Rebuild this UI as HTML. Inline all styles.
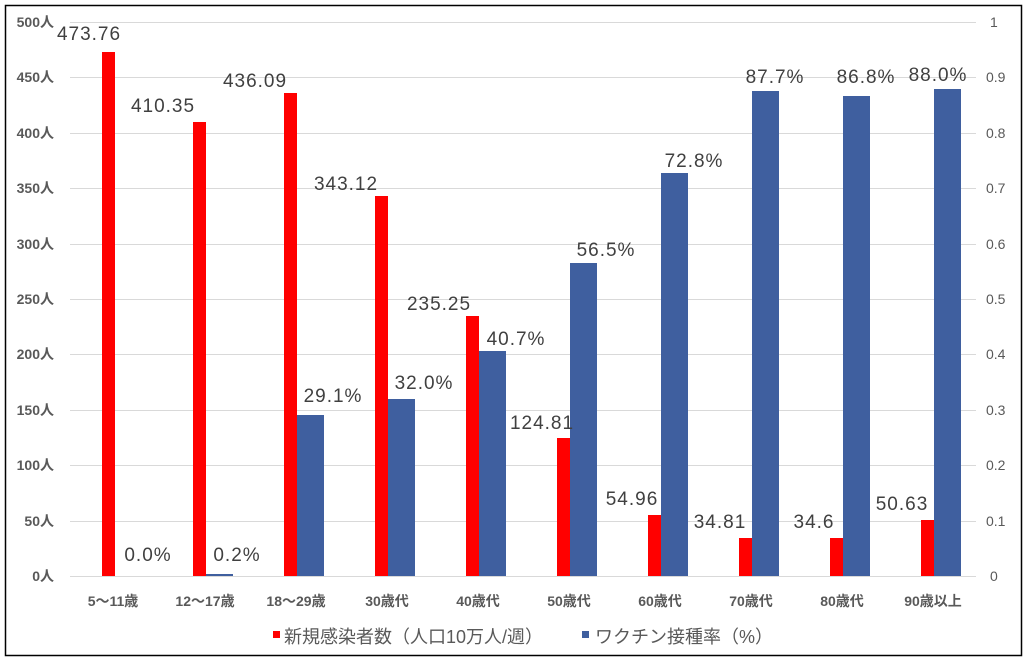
<!DOCTYPE html>
<html><head><meta charset="utf-8"><style>
body{margin:0;background:#fff;}
svg text{font-family:"Liberation Sans","Noto Sans CJK JP",sans-serif;}
</style></head><body>
<svg width="1027" height="661" xmlns="http://www.w3.org/2000/svg">
<rect x="5.5" y="5.5" width="1016" height="650" fill="#fff" stroke="#000" stroke-width="1.5"/>
<g stroke="#d9d9d9" stroke-width="1">
<line x1="70" x2="976" y1="22.5" y2="22.5"/><line x1="70" x2="976" y1="77.5" y2="77.5"/>
<line x1="70" x2="976" y1="133.5" y2="133.5"/><line x1="70" x2="976" y1="188.5" y2="188.5"/>
<line x1="70" x2="976" y1="244.5" y2="244.5"/><line x1="70" x2="976" y1="299.5" y2="299.5"/>
<line x1="70" x2="976" y1="354.5" y2="354.5"/><line x1="70" x2="976" y1="410.5" y2="410.5"/>
<line x1="70" x2="976" y1="465.5" y2="465.5"/><line x1="70" x2="976" y1="521.5" y2="521.5"/>
<line x1="70" x2="976" y1="576.5" y2="576.5"/>
</g>
<g font-size="14" font-weight="bold" fill="#595959" text-anchor="end">
<text x="54" y="27">500人</text><text x="54" y="82">450人</text><text x="54" y="138">400人</text>
<text x="54" y="193">350人</text><text x="54" y="249">300人</text><text x="54" y="304">250人</text>
<text x="54" y="359">200人</text><text x="54" y="415">150人</text><text x="54" y="470">100人</text>
<text x="54" y="526">50人</text><text x="54" y="581">0人</text>
</g>
<g font-size="14" fill="#595959">
<text x="990" y="27">1</text><text x="986" y="82">0.9</text><text x="986" y="138">0.8</text>
<text x="986" y="193">0.7</text><text x="986" y="249">0.6</text><text x="986" y="304">0.5</text>
<text x="986" y="359">0.4</text><text x="986" y="415">0.3</text><text x="986" y="470">0.2</text>
<text x="986" y="526">0.1</text><text x="990" y="581">0</text>
</g>
<g fill="#ff0000">
<rect x="102" y="52" width="13" height="524"/>
<rect x="193" y="122" width="13" height="454"/>
<rect x="284" y="93" width="13" height="483"/>
<rect x="375" y="196" width="13" height="380"/>
<rect x="466" y="316" width="13" height="260"/>
<rect x="557" y="438" width="13" height="138"/>
<rect x="648" y="515" width="13" height="61"/>
<rect x="739" y="538" width="13" height="38"/>
<rect x="830" y="538" width="13" height="38"/>
<rect x="921" y="520" width="13" height="56"/>
</g>
<g fill="#3f5f9f">
<rect x="206" y="574" width="27" height="2"/>
<rect x="297" y="415" width="27" height="161"/>
<rect x="388" y="399" width="27" height="177"/>
<rect x="479" y="351" width="27" height="225"/>
<rect x="570" y="263" width="27" height="313"/>
<rect x="661" y="173" width="27" height="403"/>
<rect x="752" y="91" width="27" height="485"/>
<rect x="843" y="96" width="27" height="480"/>
<rect x="934" y="89" width="27" height="487"/>
</g>
<g font-size="19" fill="#404040" text-anchor="middle" letter-spacing="1">
<text x="89" y="40">473.76</text>
<text x="163" y="112">410.35</text>
<text x="255" y="87">436.09</text>
<text x="346" y="190">343.12</text>
<text x="439" y="310">235.25</text>
<text x="542" y="429">124.81</text>
<text x="632" y="505">54.96</text>
<text x="720" y="528">34.81</text>
<text x="814" y="528">34.6</text>
<text x="902" y="510">50.63</text>
<text x="148" y="561">0.0%</text>
<text x="237" y="561">0.2%</text>
<text x="333" y="402">29.1%</text>
<text x="424" y="389">32.0%</text>
<text x="516" y="345">40.7%</text>
<text x="606" y="256">56.5%</text>
<text x="694" y="167">72.8%</text>
<text x="775" y="83">87.7%</text>
<text x="866" y="83">86.8%</text>
<text x="938" y="81">88.0%</text>
</g>
<g font-size="14" font-weight="bold" fill="#595959" text-anchor="middle">
<text x="113" y="606">5〜11歳</text><text x="205" y="606">12〜17歳</text><text x="296" y="606">18〜29歳</text>
<text x="387" y="606">30歳代</text><text x="478" y="606">40歳代</text><text x="569" y="606">50歳代</text>
<text x="660" y="606">60歳代</text><text x="751" y="606">70歳代</text><text x="842" y="606">80歳代</text>
<text x="933" y="606">90歳以上</text>
</g>
<rect x="273" y="631" width="7" height="7" fill="#ff0000"/>
<text x="284" y="643" font-size="18" fill="#595959">新規感染者数（人口10万人/週）</text>
<rect x="582" y="631" width="7" height="7" fill="#3f5f9f"/>
<text x="595" y="643" font-size="18" fill="#595959">ワクチン接種率（%）</text>
</svg>
</body></html>
